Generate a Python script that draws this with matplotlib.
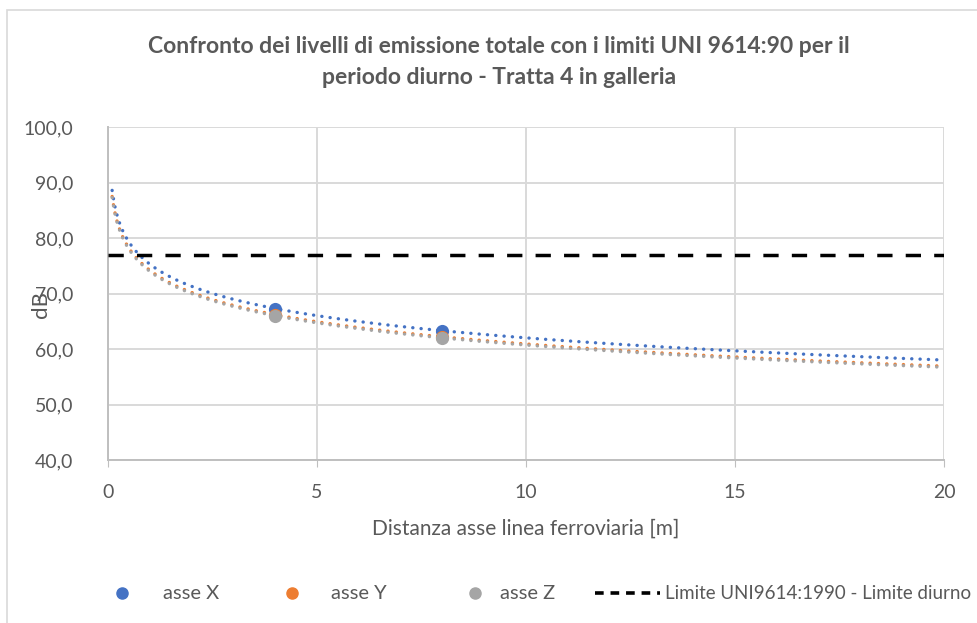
import matplotlib.pyplot as plt
import numpy as np
from matplotlib.lines import Line2D
from matplotlib.patches import Rectangle

plt.rcParams["font.family"] = ["Lato", "DejaVu Sans"]

# Measured emission levels (dB) at distance from the track axis (m)
distances = [4, 8]
level_x = [67.3, 63.3]
level_y = [66.2, 62.2]
level_z = [66.0, 62.0]
day_limit = 77.0

series_names = ["asse X", "asse Y", "asse Z"]
series_levels = [level_x, level_y, level_z]
series_colors = ["#4472C4", "#ED7D31", "#A5A5A5"]
limit_name = "Limite UNI9614:1990 - Limite diurno"

x_ticks = [0, 5, 10, 15, 20]
y_ticks = [40, 50, 60, 70, 80, 90, 100]

text_color = "#595959"
grid_color = "#D9D9D9"

fig = plt.figure(figsize=(9.77, 6.23), dpi=100)
fig.patches.append(Rectangle((0.007, -0.01), 1.1, 0.994, transform=fig.transFigure,
                             fill=False, edgecolor="#D9D9D9", linewidth=1.2))
ax = fig.add_axes([0.1105, 0.2616, 0.8557, 0.5345])

# logarithmic trendlines, fitted the same way the spreadsheet does
trend_x = np.linspace(0.1, 20, 400)
for levels, color in zip(series_levels, series_colors):
    a, b = np.polyfit(np.log(distances), levels, 1)
    ax.plot(trend_x, a * np.log(trend_x) + b, color=color, linewidth=2.4,
            linestyle=(0, (0.05, 2.45)), dash_capstyle="round", zorder=3)

for levels, color in zip(series_levels, series_colors):
    ax.scatter(distances, levels, s=90, color=color, zorder=4, linewidths=0)

ax.axhline(day_limit, color="black", linewidth=2.5, linestyle=(0, (4.4, 3.8)), zorder=3)

ax.set_xlim(0, 20)
ax.set_ylim(40, 100)
ax.set_xticks(x_ticks)
ax.set_yticks(y_ticks)
ax.set_yticklabels([f"{v:.1f}".replace(".", ",") for v in y_ticks])
ax.tick_params(axis="both", labelsize=14, labelcolor=text_color)
ax.tick_params(axis="y", length=0, pad=25)
ax.tick_params(axis="x", length=5, color="#BFBFBF", pad=12)
ax.grid(True, color=grid_color, linewidth=1.4)
ax.set_axisbelow(True)
for side in ["top", "right"]:
    ax.spines[side].set_visible(False)
for side in ["left", "bottom"]:
    ax.spines[side].set_color("#BFBFBF")
    ax.spines[side].set_linewidth(1.4)

ax.set_xlabel("Distanza asse linea ferroviaria [m]", fontsize=15, color=text_color, labelpad=13)
fig.text(0.042, 0.512, "dB", rotation=90, fontsize=16, color=text_color, ha="center", va="center")

fig.text(0.511, 0.9, "Confronto dei livelli di emissione totale con i limiti UNI 9614:90 per il\n"
         "periodo diurno - Tratta 4 in galleria", ha="center", va="center",
         fontsize=16.5, fontweight="bold", color=text_color, linespacing=1.6)

# legend row drawn by hand so the entries sit where the spreadsheet puts them
legend_y = 0.048
marker_x = [0.125, 0.299, 0.486]
label_x = [0.167, 0.339, 0.512]
for mx, lx, name, color in zip(marker_x, label_x, series_names, series_colors):
    fig.add_artist(Line2D([mx], [legend_y], marker="o", markersize=8, color=color,
                          linestyle="none", transform=fig.transFigure))
    fig.text(lx, legend_y, name, fontsize=14.5, color=text_color, va="center")
fig.add_artist(Line2D([0.609, 0.676], [legend_y, legend_y], color="black", linewidth=2.6,
                      linestyle=(0, (2.4, 1.9)), transform=fig.transFigure))
fig.text(0.681, legend_y, limit_name, fontsize=13.5, color=text_color, va="center")

fig.savefig("out.png", dpi=100)
